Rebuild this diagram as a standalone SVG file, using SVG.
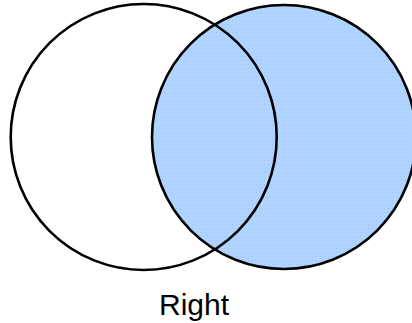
<svg xmlns="http://www.w3.org/2000/svg" width="412" height="323" viewBox="0 0 412 323">
<defs>
<style>
.c{stroke:#000;stroke-width:2.6}
.lbl{font-family:"Liberation Sans",Arial,sans-serif;font-size:30px;fill:#000}
</style>
<pattern id="dots" width="4" height="4" patternUnits="userSpaceOnUse">
<rect width="4" height="4" fill="#b0d4ff"/>
<rect width="1" height="1" fill="#9cc6f6"/>
</pattern>
</defs>
<rect width="412" height="323" fill="#fff"/>
<g id="right-set"><circle class="c" cx="284" cy="137" r="132" fill="url(#dots)"/></g>
<g id="left-set"><circle class="c" cx="143.7" cy="137" r="133" fill="none"/></g>
<g id="label"><text class="lbl" x="194" y="315" text-anchor="middle">Right</text></g>
</svg>
